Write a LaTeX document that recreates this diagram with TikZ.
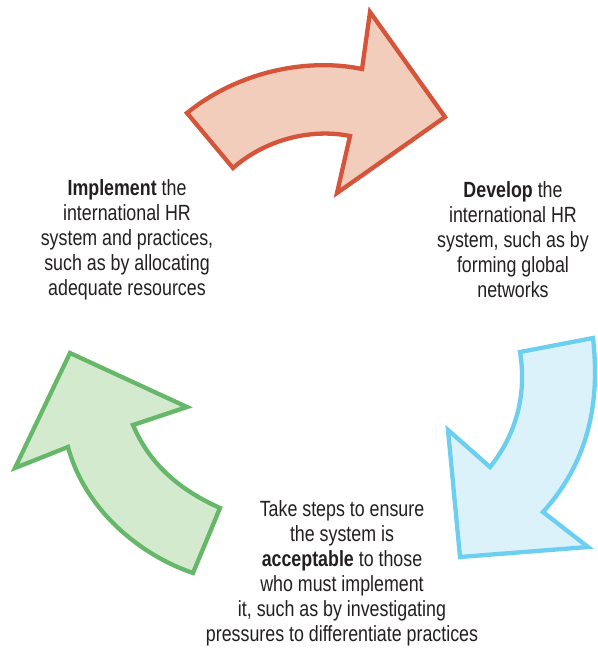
\documentclass[tikz,border=0pt]{standalone}
\usepackage{fontspec}
\setmainfont{Liberation Sans}[FakeStretch=0.81]
\usepackage{tikz}
\usetikzlibrary{positioning}
\usepackage{xcolor}
\definecolor{redline}{HTML}{D4553A}
\definecolor{redfill}{HTML}{F2CDBB}
\definecolor{blueline}{HTML}{6DCFF0}
\definecolor{bluefill}{HTML}{DCF2FB}
\definecolor{greenline}{HTML}{66B76A}
\definecolor{greenfill}{HTML}{D4EACE}
\definecolor{txt}{HTML}{231F20}

\begin{document}
\begin{tikzpicture}[x=1pt,y=-1pt,
        bigarrow/.style={line width=4.3pt,line join=miter},
        label/.style={align=center,text=txt,font=\fontsize{22}{25}\selectfont}]
        \useasboundingbox (0,0) rectangle (597,650);
        % develop arrow (top)
        \draw[bigarrow,draw=redline,fill=redfill] (187,113) -- (233,168)
            .. controls (265,140) and (310,128) .. (350,136)
            -- (337,193) -- (445,117) -- (370,12) -- (362,69)
            .. controls (310,58) and (240,70) .. cycle;
        % acceptable arrow (right)
        \draw[bigarrow,draw=blueline,fill=bluefill] (520,352) -- (593,338)
            .. controls (600,400) and (590,460) .. (543,512)
            -- (588,547) -- (460,557) -- (448,430) -- (490,467)
            .. controls (512,440) and (528,400) .. cycle;
        % implement arrow (left)
        \draw[bigarrow,draw=greenline,fill=greenfill] (193,573) -- (220,508)
            .. controls (180,490) and (150,465) .. (133,425)
            -- (187,407) -- (70,353) -- (15,468) -- (68,447)
            .. controls (85,510) and (140,555) .. cycle;
        \node[label] (implement) at (127,240) {\textbf{Implement} the\\international HR\\system and practices,\\such as by allocating\\adequate resources};
        \node[label] (develop) at (513,240) {\textbf{Develop} the\\international HR\\system, such as by\\forming global\\networks};
        \node[label] (accept) at (342,573) {Take steps to ensure\\the system is\\\textbf{acceptable} to those\\who must implement\\it, such as by investigating\\pressures to differentiate practices};
    \end{tikzpicture}
\end{document}
